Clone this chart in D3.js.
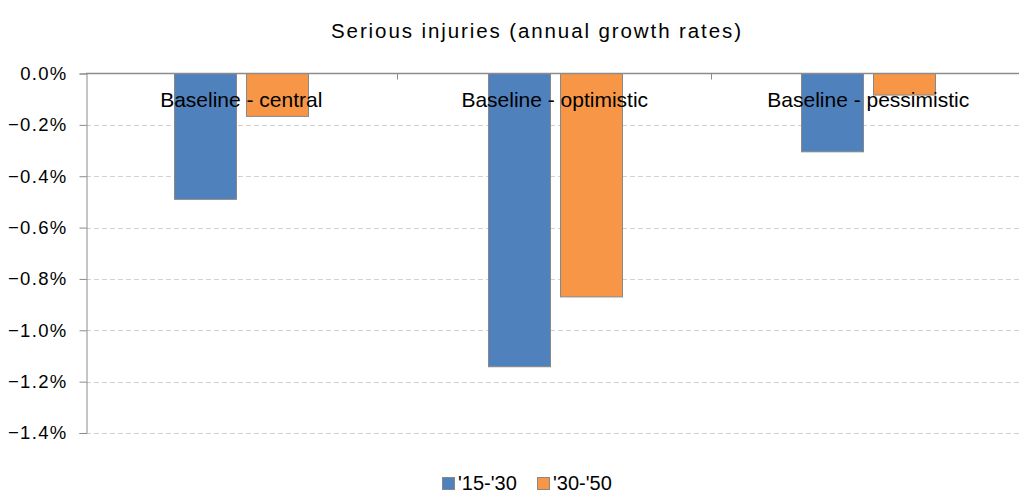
<!DOCTYPE html>
<html><head><meta charset="utf-8">
<script src="https://cdn.jsdelivr.net/npm/d3@7"></script>
<style>body{margin:0;background:#fff;} svg{display:block;font-family:"Liberation Sans",Arial,sans-serif;}</style>
</head><body>
<svg id="c" width="1019" height="490"></svg>
<script>
const categories = ["Baseline - central", "Baseline - optimistic", "Baseline - pessimistic"];
const seriesNames = ["'15-'30", "'30-'50"];
const series1 = [-0.49, -1.142, -0.305];
const series2 = [-0.167, -0.87, -0.084];
const yTicks = [0, -0.2, -0.4, -0.6, -0.8, -1.0, -1.2, -1.4];
const colors = ["#4f81bd", "#f79646"];

(function () {
const svg = d3.select("#c");
const axisX = 86, plotTop = 73.5, plotBottom = 433, band = 313.5, bandStart = 84.5;
const x = d3.scaleBand().domain(categories).range([bandStart, bandStart + band * 3]).paddingInner(0).paddingOuter(0);
const y = d3.scaleLinear().domain([0, -1.4]).range([plotTop, plotBottom]);
const bw = 62, gap = 10;
const xs = d3.scaleBand().domain([0, 1]).range([0, bw * 2 + gap]).paddingInner(gap / (bw + gap));

svg.append("text").attr("x", 536).attr("y", 38).attr("text-anchor", "middle")
  .attr("font-size", 20.5).attr("fill", "#000")
  .attr("textLength", 410).attr("lengthAdjust", "spacing")
  .text("Serious injuries (annual growth rates)");

// grid
svg.append("g").selectAll("line").data(yTicks.filter(d => d !== 0)).join("line")
  .attr("x1", axisX).attr("x2", 1019).attr("y1", d => Math.round(y(d)) + 0.5).attr("y2", d => Math.round(y(d)) + 0.5)
  .attr("stroke", "#d0d0d0").attr("stroke-dasharray", "5,3");

// y axis
const yAxis = d3.axisLeft(y).tickValues(yTicks).tickSize(7).tickPadding(12)
  .tickFormat(d => d3.format(".1f")(d) + "%");
const ga = svg.append("g").attr("transform", `translate(${axisX + 0.5},0)`).call(yAxis);
ga.select(".domain").attr("stroke", "#8c8c8c");
ga.selectAll(".tick line").attr("stroke", "#8c8c8c");
ga.selectAll(".tick text").attr("font-size", 18.5).attr("fill", "#000")
  .attr("letter-spacing", "1.3px")
  .attr("font-family", '"Liberation Sans",Arial,sans-serif');

const data = categories.map((c, i) => ({c, v: [series1[i], series2[i]]}));
const g = svg.append("g");
data.forEach(d => {
  const x0 = x(d.c) + x.bandwidth() / 2 - (bw * 2 + gap) / 2;
  [0, 1].forEach(k => {
    const v = d.v[k];
    g.append("rect")
      .attr("x", Math.round(x0 + xs(k)) + 0.5).attr("y", y(0))
      .attr("width", bw).attr("height", y(v) - y(0))
      .attr("fill", colors[k]).attr("stroke", "#888").attr("stroke-width", 1);
  });
});

// x axis at zero
svg.append("line").attr("x1", axisX).attr("x2", 1019).attr("y1", plotTop).attr("y2", plotTop)
  .attr("stroke", "#8c8c8c").attr("stroke-width", 1.5);
svg.append("g").selectAll("line").data(categories.slice(1)).join("line")
  .attr("x1", d => Math.round(x(d)) - 0.5).attr("x2", d => Math.round(x(d)) - 0.5).attr("y1", plotTop).attr("y2", plotTop + 6)
  .attr("stroke", "#8c8c8c");

// category labels
svg.append("g").selectAll("text").data(categories).join("text")
  .attr("x", d => x(d) + x.bandwidth() / 2).attr("y", 107).attr("text-anchor", "middle")
  .attr("font-size", 21).attr("fill", "#000").text(d => d);

// legend
const leg = [{x: 442, t: seriesNames[0], c: colors[0]}, {x: 537, t: seriesNames[1], c: colors[1]}];
leg.forEach(l => {
  svg.append("rect").attr("x", l.x + 0.5).attr("y", 477.5).attr("width", 12).attr("height", 12)
    .attr("fill", l.c).attr("stroke", "#888");
  svg.append("text").attr("x", l.x + 16).attr("y", 489.5).attr("font-size", 20).attr("fill", "#000").text(l.t);
});
})();
</script>
</body></html>
